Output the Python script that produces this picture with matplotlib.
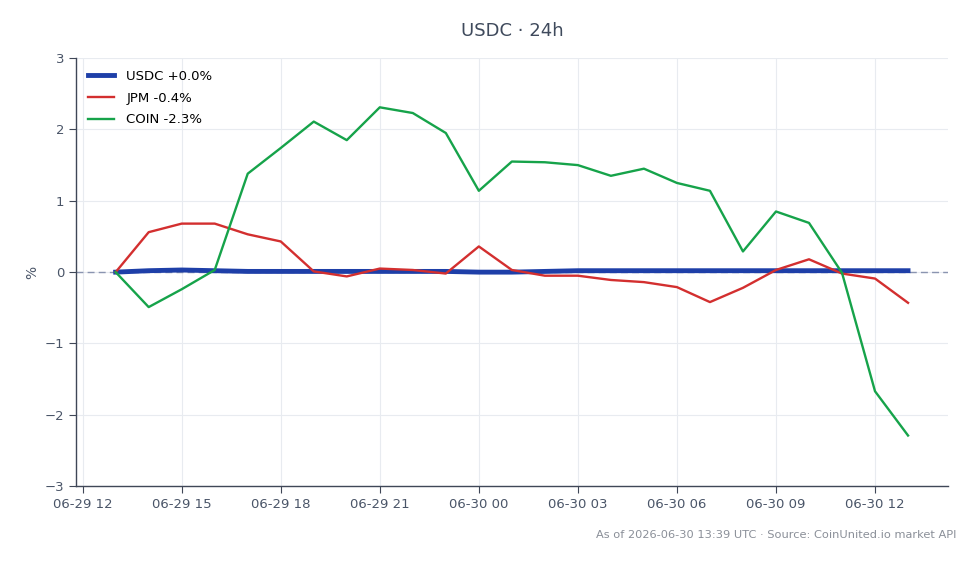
import matplotlib
matplotlib.use("Agg")
import matplotlib.pyplot as plt
import matplotlib.dates as mdates
import pandas as pd

times = pd.date_range("2026-06-29 13:00", "2026-06-30 13:00", freq="h")
usdc = [0.0, 0.02, 0.03, 0.02, 0.01, 0.01, 0.01, 0.01, 0.01, 0.01, 0.01, 0.0, 0.0,
        0.01, 0.02, 0.02, 0.02, 0.02, 0.02, 0.02, 0.02, 0.02, 0.02, 0.02, 0.02]
jpm = [0.0, 0.56, 0.68, 0.68, 0.53, 0.43, 0.01, -0.06, 0.05, 0.03, -0.02, 0.36, 0.03,
       -0.05, -0.05, -0.11, -0.14, -0.21, -0.42, -0.22, 0.03, 0.18, -0.02, -0.09, -0.43]
coin = [0.0, -0.49, -0.24, 0.03, 1.38, 1.74, 2.11, 1.85, 2.31, 2.23, 1.95, 1.14, 1.55,
        1.54, 1.50, 1.35, 1.45, 1.25, 1.14, 0.29, 0.85, 0.69, -0.01, -1.67, -2.29]
labels = ["USDC +0.0%", "JPM -0.4%", "COIN -2.3%"]
colors = ["#1e3fa8", "#d32f2f", "#16a34a"]
title = "USDC · 24h"
footer = "As of 2026-06-30 13:39 UTC · Source: CoinUnited.io market API"

fig = plt.figure(figsize=(9.8, 5.64), dpi=100)
ax = fig.add_axes([0.0776, 0.138, 0.8894, 0.759])

ax.axhline(0, color="#8a94b0", linestyle=(0, (5, 3)), linewidth=1.0, zorder=1)
ax.plot(times, usdc, color=colors[0], linewidth=3.5, label=labels[0], zorder=3)
ax.plot(times, jpm, color=colors[1], linewidth=1.7, label=labels[1], zorder=4)
ax.plot(times, coin, color=colors[2], linewidth=1.7, label=labels[2], zorder=4)

ax.set_ylim(-3, 3)
ax.set_yticks([-3, -2, -1, 0, 1, 2, 3])
ax.set_yticklabels(["\u22123", "\u22122", "\u22121", "0", "1", "2", "3"])
ax.margins(x=0.05)
ax.xaxis.set_major_locator(mdates.HourLocator(byhour=[0, 3, 6, 9, 12, 15, 18, 21]))
ax.xaxis.set_major_formatter(mdates.DateFormatter("%m-%d %H"))

ax.grid(True, color="#e8ebf0", linewidth=0.8, zorder=0)
ax.set_axisbelow(True)
for s in ["top", "right"]:
    ax.spines[s].set_visible(False)
for s in ["left", "bottom"]:
    ax.spines[s].set_color("#3f4757")
    ax.spines[s].set_linewidth(1.0)
ax.tick_params(colors="#3f4757", labelcolor="#4a5568", labelsize=9.5, length=5)
ax.set_ylabel("%", color="#4a5568", fontsize=10)

ax.set_title(title, color="#3f4a5c", fontsize=13, pad=16)
leg = ax.legend(loc="upper left", frameon=False, fontsize=9.5, handlelength=2.0,
                labelspacing=0.66, handletextpad=0.9)

fig.text(0.976, 0.052, footer, ha="right", va="center", color="#8a8f98", fontsize=8.2)

fig.savefig("out.png", dpi=100)
